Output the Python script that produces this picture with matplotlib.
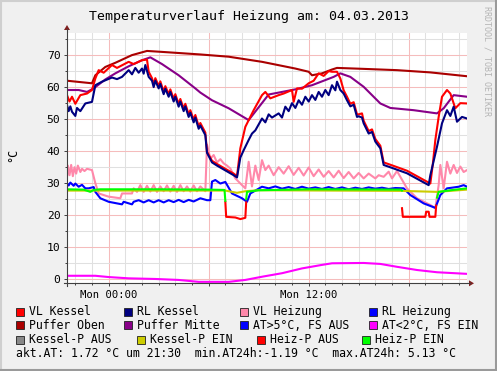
import numpy as np
import matplotlib.pyplot as plt
from matplotlib.lines import Line2D
from matplotlib.patches import Rectangle, Polygon

plt.rcParams['font.family'] = ['DejaVu Sans Mono']

nan = np.nan

# hours relative to Mon 00:00
t_oben = [-2.5, -1.0, -0.8, -0.2, 0.4, 1.4, 2.3, 3.2, 5.5, 7.2, 9.2, 11.2, 12.0, 12.2, 12.8, 13.4, 13.7, 15.3, 17.3, 19.3, 21.5]
v_oben = [62.0, 61.2, 63.7, 66.3, 67.6, 70.0, 71.3, 71.0, 70.2, 69.5, 67.9, 65.8, 64.8, 63.7, 64.3, 65.5, 66.0, 65.7, 65.3, 64.6, 63.4]

t_mitte = [-2.5, -1.8, -1.3, -0.9, -0.2, 0.4, 1.2, 2.0, 2.5, 3.2, 4.2, 5.2, 5.5, 6.2, 7.2, 8.4, 9.6, 11.2, 12.2, 13.5, 13.9, 14.5, 15.3, 16.3, 16.9, 18.3, 19.7, 20.1, 20.7, 21.5]
v_mitte = [59.1, 59.1, 58.5, 59.6, 62.4, 64.3, 66.5, 68.4, 69.3, 67.2, 63.7, 59.6, 58.3, 55.9, 53.4, 49.7, 57.7, 59.3, 60.6, 63.2, 64.3, 63.2, 60.1, 54.9, 53.5, 52.8, 51.8, 53.4, 57.5, 57.0]

t_vlk = [-2.5, -2.35, -2.2, -2.0, -1.7, -1.3, -1.0, -0.8, -0.6, -0.3, 0.2, 0.5, 1.2, 1.5, 2.0, 2.3, 2.4,
         2.6, 2.7, 2.8, 3.0, 3.1, 3.3, 3.4, 3.6, 3.7, 3.9, 4.0, 4.2, 4.3, 4.5, 4.6, 4.8, 4.9, 5.1, 5.2, 5.4, 5.5, 5.8,
         5.9, 6.2, 6.5, 7.0, 7.5, 7.7, 7.9, 8.2, 8.7, 9.2, 9.4, 9.7, 10.2, 10.5, 11.0, 11.1, 11.3, 11.6, 12.0, 12.3,
         12.6, 12.9, 13.2, 13.4, 13.7, 13.9, 14.1, 14.3, 14.5, 14.7, 14.9, 15.0, 15.2, 15.3, 15.6, 15.8, 16.0, 16.3,
         16.5, 17.1, 17.9, 19.3, 19.45, 19.6, 19.8, 20.0, 20.3, 20.5, 20.8, 21.1, 21.5]
v_vlk = [57.5, 55.5, 57.0, 54.8, 57.5, 58.0, 59.1, 62.7, 65.3, 64.5, 66.9, 66.0, 67.9, 67.2, 68.4, 68.6, 64.8,
         62.8, 60.8, 62.8, 60.4, 61.8, 58.6, 60.3, 57.8, 59.3, 56.3, 57.8, 54.7, 56.3, 53.3, 54.8, 51.5, 52.8, 49.8, 51.3, 47.8, 48.8, 45.8,
         39.8, 37.0, 36.0, 34.5, 33.0, 32.2, 40.9, 47.6, 52.8, 57.5, 58.5, 56.5, 57.5, 58.0, 59.1, 55.4, 59.6, 59.5, 61.2, 62.0,
         64.3, 63.5, 65.0, 64.8, 64.8, 62.7, 59.0, 57.0, 54.8, 55.3, 51.5, 51.5, 51.8, 49.5, 46.3, 46.8, 43.8, 41.7,
         36.5, 35.4, 33.9, 29.9, 36.0, 43.5, 50.7, 57.0, 59.1, 58.0, 53.4, 55.0, 54.9]

t_rlk = [-2.5, -2.4, -2.3, -2.2, -2.0, -1.9, -1.7, -1.4, -1.0, -0.8, -0.4, 0.2, 0.5, 0.8, 1.2, 1.4, 1.6, 1.8, 2.0, 2.1, 2.2, 2.4,
         2.6, 2.7, 2.8, 3.0, 3.1, 3.3, 3.4, 3.6, 3.7, 3.9, 4.0, 4.2, 4.3, 4.5, 4.6, 4.8, 4.9, 5.1, 5.2, 5.4, 5.5, 5.8,
         5.9, 6.2, 6.5, 7.0, 7.5, 7.7, 7.9, 8.1, 8.4, 8.6, 8.8, 9.2, 9.4, 9.6, 9.8, 10.2, 10.4, 10.6, 10.8, 11.0, 11.2,
         11.4, 11.6, 11.8, 12.0, 12.2, 12.4, 12.6, 12.8, 13.0, 13.2, 13.4, 13.6, 13.7, 13.9,
         14.1, 14.3, 14.5, 14.7, 14.9, 15.0, 15.2, 15.3, 15.6, 15.8, 16.0, 16.3, 16.5, 17.1, 17.9, 19.2, 19.3,
         19.7, 20.0, 20.3, 20.5, 20.7, 20.9, 21.2, 21.5]
v_rlk = [54.4, 52.5, 54.0, 52.3, 51.0, 53.5, 52.5, 54.9, 55.4, 60.6, 61.7, 63.0, 62.5, 63.2, 65.3, 64.0, 66.0, 64.5, 65.8, 64.2, 66.9, 63.2,
         62.0, 60.0, 62.0, 59.6, 61.0, 57.8, 59.5, 57.0, 58.5, 55.5, 57.0, 53.9, 55.5, 52.5, 54.0, 50.7, 52.0, 49.0, 50.5, 47.0, 48.0, 45.0,
         39.5, 36.5, 35.5, 34.0, 32.5, 31.8, 38.0, 40.3, 43.5, 45.5, 46.5, 50.2, 49.0, 51.5, 50.5, 51.8, 50.5, 53.9, 52.5, 55.0, 53.5,
         55.9, 54.5, 57.0, 55.5, 57.5, 56.0, 58.5, 57.0, 59.1, 57.5, 60.6, 59.0, 61.7, 59.1,
         58.0, 55.9, 54.0, 54.5, 50.7, 50.9, 50.5, 48.7, 45.5, 46.0, 43.0, 40.9, 35.7, 34.6, 33.1, 29.4, 32.5,
         41.4, 48.7, 52.8, 51.0, 53.9, 49.2, 50.7, 50.2]

t_vlh = [-2.5, -2.45, -2.35, -2.25, -2.15, -2.05, -1.95, -1.85, -1.7, -1.6, -1.45, -1.3, -1.0, -0.8, -0.6, 0.0, 0.7, 0.8, 1.4, 1.5,
         1.7, 1.9, 2.1, 2.3, 2.5, 2.7, 2.9, 3.1, 3.3, 3.5, 3.7, 3.9, 4.1, 4.3, 4.5, 4.7, 4.9, 5.1, 5.3, 5.5, 5.8,
         5.9, 6.1, 6.3, 6.5, 6.7, 6.9, 7.1, 7.3, 7.6, 8.0, 8.2, 8.4, 8.6, 8.8, 9.0, 9.2, 9.4, 9.6,
         9.9, 10.2, 10.5, 10.8, 11.1, 11.4, 11.7, 12.0, 12.3, 12.6, 12.9, 13.2, 13.5, 13.8, 14.1, 14.4, 14.7, 15.0, 15.3, 15.6,
         16.0, 16.2, 16.5, 16.8, 17.0, 17.3, 17.5, 17.9, 18.5, 19.3, 19.6, 19.8, 19.9, 20.1, 20.3, 20.5, 20.7, 20.9, 21.1, 21.3, 21.5]
v_vlh = [32.0, 35.5, 32.5, 35.7, 32.2, 35.0, 33.0, 35.5, 33.5, 34.5, 33.8, 34.5, 34.1, 30.0, 26.8, 25.8, 25.3, 26.8, 26.8, 28.4,
         27.3, 29.4, 27.3, 29.2, 27.4, 29.4, 27.3, 29.0, 27.5, 29.3, 27.4, 29.2, 27.3, 29.4, 27.5, 29.0, 27.4, 29.3, 27.5, 29.0, 27.5,
         42.0, 37.7, 38.8, 36.5, 37.5, 36.2, 35.5, 34.6, 31.5, 29.4, 28.4, 36.7, 29.0, 35.5, 31.0, 37.2, 34.1, 35.5,
         32.5, 35.0, 33.0, 35.3, 32.6, 34.8, 32.4, 34.9, 32.2, 34.3, 32.0, 33.8, 31.8, 33.9, 31.6, 33.5, 31.5, 33.2, 31.5, 33.0,
         31.5, 32.5, 32.0, 33.6, 31.5, 33.8, 32.0, 28.4, 25.3, 23.2, 22.2, 29.4, 35.7, 28.4, 36.7, 33.0, 35.7, 33.2, 35.2, 33.5, 34.1]

t_rlh = [-2.5, -2.4, -2.3, -2.1, -2.0, -1.8, -1.6, -1.4, -1.2, -0.9, -0.8, -0.5, 0.0, 0.8, 0.9, 1.4, 1.5,
         1.8, 2.1, 2.4, 2.7, 3.0, 3.3, 3.6, 3.9, 4.2, 4.5, 4.8, 5.1, 5.5, 5.9, 6.1, 6.2, 6.4, 6.7, 7.0,
         7.4, 8.0, 8.3, 8.5, 9.2, 9.6, 10.0, 10.4, 10.8, 11.2, 11.6, 12.0, 12.4, 12.8, 13.2, 13.6, 14.0, 14.4,
         14.8, 15.2, 15.6, 16.0, 16.4, 16.8, 17.2, 17.7, 18.1, 18.9, 19.6, 19.9, 20.3, 20.6, 21.0, 21.3, 21.5]
v_rlh = [30.0, 29.3, 30.2, 29.2, 29.9, 28.9, 29.5, 28.4, 28.4, 28.8, 27.3, 25.3, 24.2, 23.4, 24.2, 23.4, 24.2,
         24.7, 24.0, 24.7, 24.0, 24.7, 24.0, 24.7, 24.1, 24.8, 24.1, 24.8, 24.3, 25.3, 24.7, 24.7, 30.5, 31.0, 29.9, 30.4,
         26.8, 25.3, 24.2, 26.8, 28.9, 28.4, 29.0, 28.3, 28.8, 28.2, 28.9, 28.3, 28.7, 28.2, 28.8, 28.2, 28.7, 28.1,
         28.6, 28.2, 28.7, 28.3, 28.6, 28.2, 28.5, 28.4, 26.3, 23.7, 22.3, 26.3, 28.4, 28.6, 28.9, 29.4, 28.9]

t_at = [-2.5, -0.8, 0.0, 1.2, 2.8, 4.2, 5.4, 7.2, 8.2, 9.2, 10.4, 11.6, 12.8, 13.4, 15.3, 16.3, 17.3, 18.5, 19.7, 21.5]
v_at = [1.1, 1.1, 0.7, 0.3, 0.1, -0.2, -0.8, -0.8, -0.2, 0.8, 1.9, 3.4, 4.5, 5.0, 5.1, 4.8, 3.9, 2.9, 2.2, 1.7]

t_kp_ein = [-2.5, 7.0, 7.2, 7.7, 8.2, 9.0, 17.6, 19.7, 21.5]
v_kp_ein = [27.7, 27.7, 27.5, 27.0, 27.5, 27.8, 27.6, 27.3, 28.0]

t_hp_aus = [7.0, 7.05, 7.6, 7.9, 8.2, 8.25, nan, 17.6, 17.65, 19.0, 19.05, 19.2, 19.25, 19.6, 19.65]
v_hp_aus = [24.2, 19.5, 19.3, 18.8, 19.2, 24.0, nan, 22.2, 19.5, 19.5, 21.1, 21.1, 19.5, 19.5, 23.0]

t_hp_ein = [-2.5, -1.5, -1.1, -0.9, -0.5, 3.0, 6.0, 6.95, 7.0, nan, 8.25, 8.3, 9.0, 12.0, 17.55, 17.6, nan, 19.7, 19.8, 20.5, 21.5]
v_hp_ein = [28.1, 28.0, 27.3, 27.9, 28.1, 28.1, 28.0, 27.9, 24.5, nan, 25.0, 27.3, 27.8, 28.1, 28.0, 27.7, nan, 25.5, 27.3, 27.8, 28.4]

legend_rows = [
    [('VL Kessel', '#ff0000'), ('RL Kessel', '#000080'), ('VL Heizung', '#ff88aa'), ('RL Heizung', '#0000ff')],
    [('Puffer Oben', '#aa0000'), ('Puffer Mitte', '#880088'), ('AT>5°C, FS AUS', '#0000ff'), ('AT<2°C, FS EIN', '#ff00ff')],
    [('Kessel-P AUS', '#888888'), ('Kessel-P EIN', '#cccc00'), ('Heiz-P AUS', '#ff0000'), ('Heiz-P EIN', '#00ff00')],
]
legend_x = [[16.3, 123.7, 240.0, 368.7], [16.3, 123.7, 240.0, 368.7], [16.3, 136.7, 256.7, 362.3]]
legend_y = [311.7, 325.3, 339.5]
info_text = 'akt.AT: 1.72 °C um 21:30  min.AT24h:-1.19 °C  max.AT24h: 5.13 °C'

W, H = 497, 371
fig = plt.figure(figsize=(W / 100, H / 100), dpi=100, facecolor='#f0f0f0')


def fx(px):
    return px / W


def fy(py):
    return 1 - py / H


L, R, T, B = 67, 467, 33, 283.3
ax = fig.add_axes([fx(L), fy(B), fx(R) - fx(L), fy(T) - fy(B)])
ax.set_facecolor('white')
ax.set_xlim(-2.5, 21.5)
ax.set_ylim(-1.25, 76.9)
for s in ax.spines.values():
    s.set_visible(False)

ax.set_xticks([0, 6, 12, 18])
ax.set_xticklabels(['Mon 00:00', '', 'Mon 12:00', ''])
ax.set_xticks(np.arange(-2, 22, 1), minor=True)
ax.set_yticks(np.arange(0, 71, 10))
ax.set_yticks(np.arange(5, 76, 5), minor=True)
ax.grid(which='minor', color='#e0e0e0', linewidth=0.75)
ax.grid(which='major', color='#f5bcbc', linewidth=0.75)
ax.set_axisbelow(True)
ax.tick_params(which='both', colors='#404040', labelcolor='black', width=0.7)
ax.tick_params(axis='x', labelsize=7.6)
ax.tick_params(axis='y', labelsize=8.2)
ax.tick_params(which='major', length=2.5, direction='out', pad=2.2)
ax.tick_params(which='minor', length=1.5, direction='out')

lw = 1.5
ax.plot(t_vlh, v_vlh, color='#ff88aa', lw=lw)
ax.plot(t_rlh, v_rlh, color='#0000ff', lw=lw)
ax.plot(t_oben, v_oben, color='#aa0000', lw=lw)
ax.plot(t_mitte, v_mitte, color='#880088', lw=lw)
ax.plot(t_vlk, v_vlk, color='#ff0000', lw=lw)
ax.plot(t_rlk, v_rlk, color='#000080', lw=lw)
ax.plot(t_at, v_at, color='#ff00ff', lw=lw)
ax.plot(t_kp_ein, v_kp_ein, color='#cccc00', lw=lw)
ax.plot(t_hp_aus, v_hp_aus, color='#ff0000', lw=lw)
ax.plot(t_hp_ein, v_hp_ein, color='#00ff00', lw=lw)

# axis lines with arrows
axis_col = '#404040'
arrow_col = '#7f1f1f'
fig.add_artist(Line2D([fx(L), fx(L)], [fy(B + 3), fy(29)], color=axis_col, lw=0.8))
fig.add_artist(Line2D([fx(L - 3), fx(470)], [fy(B), fy(B)], color=axis_col, lw=0.8))
fig.add_artist(Polygon([[fx(L - 3), fy(30)], [fx(L + 3), fy(30)], [fx(L), fy(25)]], closed=True,
                       color=arrow_col, lw=0))
fig.add_artist(Polygon([[fx(469), fy(B - 3)], [fx(469), fy(B + 3)], [fx(474), fy(B)]], closed=True,
                       color=arrow_col, lw=0))

# frame shading
fig.add_artist(Line2D([0, 1], [fy(0.5), fy(0.5)], color='#cfcfcf', lw=1.5))
fig.add_artist(Line2D([fx(0.5), fx(0.5)], [0, 1], color='#cfcfcf', lw=1.5))
fig.add_artist(Line2D([0, 1], [fy(H - 1), fy(H - 1)], color='#9a9a9a', lw=1.5))
fig.add_artist(Line2D([fx(W - 1), fx(W - 1)], [0, 1], color='#9a9a9a', lw=1.5))

fig.text(fx(249), fy(16.5), 'Temperaturverlauf Heizung am: 04.03.2013', ha='center', va='center', fontsize=9.5)
fig.text(fx(13), fy(155), '°C', rotation=90, ha='center', va='center', fontsize=8.5)
fig.text(fx(487), fy(61), 'RRDTOOL / TOBI OETIKER', rotation=270, ha='center', va='center',
         fontsize=6, color='#b4b4b4')

for row, xs, yc in zip(legend_rows, legend_x, legend_y):
    for (name, col), x0 in zip(row, xs):
        fig.add_artist(Rectangle((fx(x0), fy(yc + 4)), 8 / W, 8 / H, facecolor=col,
                                 edgecolor='#202020', lw=0.6))
        fig.text(fx(x0 + 13), fy(yc), name, ha='left', va='center', fontsize=8.3)
fig.text(fx(15.5), fy(353.3), info_text, ha='left', va='center', fontsize=8.3)

fig.savefig('out.png', dpi=100, facecolor=fig.get_facecolor())
